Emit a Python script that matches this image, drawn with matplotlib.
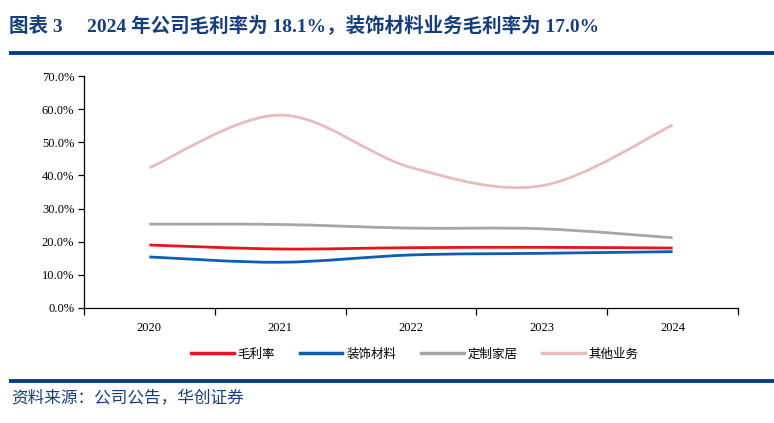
import matplotlib
matplotlib.use('Agg')
import matplotlib.pyplot as plt
from matplotlib.path import Path
from matplotlib.patches import PathPatch
from matplotlib.lines import Line2D
from matplotlib.ticker import FuncFormatter, FixedLocator

plt.rcParams['font.family'] = ['Liberation Serif', 'Noto Sans CJK SC']

# data
years = ['2020', '2021', '2022', '2023', '2024']
gross_margin = [19.0, 17.8, 18.2, 18.3, 18.1]
decor_material = [15.4, 13.8, 16.0, 16.5, 17.0]
custom_home = [25.3, 25.2, 24.1, 23.9, 21.2]
other_business = [42.3, 58.2, 42.4, 36.9, 55.2]

series_names = ['毛利率', '装饰材料', '定制家居', '其他业务']
series_values = [gross_margin, decor_material, custom_home, other_business]
colors = ['#e8141c', '#0d5cb6', '#a6a6a6', '#e8bcbc']

title_color = '#173e7c'


def smooth_path(xs, ys):
    # bezier through points, excel-like smoothing
    pts = list(zip(xs, ys))
    verts = [pts[0]]
    codes = [Path.MOVETO]
    n = len(pts)
    for i in range(n - 1):
        p0 = pts[i - 1] if i > 0 else pts[i]
        p1 = pts[i]
        p2 = pts[i + 1]
        p3 = pts[i + 2] if i + 2 < n else pts[i + 1]
        c1 = (p1[0] + (p2[0] - p0[0]) / 6, p1[1] + (p2[1] - p0[1]) / 6)
        c2 = (p2[0] - (p3[0] - p1[0]) / 6, p2[1] - (p3[1] - p1[1]) / 6)
        verts += [c1, c2, p2]
        codes += [Path.CURVE4] * 3
    return Path(verts, codes)


fig = plt.figure(figsize=(7.74, 4.23), dpi=100)
ax = fig.add_axes([0.1085, 0.2719, 0.9535 - 0.1085, 0.8203 - 0.2719])

x = list(range(len(years)))
for vals, c in zip(series_values, colors):
    patch = PathPatch(smooth_path(x, vals), facecolor='none', edgecolor=c,
                      lw=2.0, capstyle='butt', joinstyle='round')
    ax.add_patch(patch)

ax.set_xlim(-0.5, 4.5)
ax.set_ylim(0, 70)
ax.yaxis.set_major_locator(FixedLocator([0, 10, 20, 30, 40, 50, 60, 70]))
ax.yaxis.set_major_formatter(FuncFormatter(lambda v, p: f'{v:.1f}%'))
ax.set_xticks(x)
ax.set_xticklabels(years)
ax.xaxis.set_minor_locator(FixedLocator([-0.5, 0.5, 1.5, 2.5, 3.5, 4.5]))
ax.tick_params(axis='x', which='major', length=0, pad=10, labelsize=9)
ax.tick_params(axis='x', which='minor', length=5, width=0.9, direction='out')
ax.tick_params(axis='y', length=4, width=0.9, direction='out', labelsize=9, pad=3)
for s in ['top', 'right']:
    ax.spines[s].set_visible(False)
for s in ['left', 'bottom']:
    ax.spines[s].set_linewidth(0.9)
    ax.spines[s].set_color('black')

handles = [Line2D([0], [0], color=c, lw=2.5) for c in colors]
leg = fig.legend(handles, series_names, loc='center', bbox_to_anchor=(0.536, 0.163),
                 ncol=4, frameon=False, handlelength=3.4, handletextpad=0.3,
                 columnspacing=2.0, prop={'family': ['Noto Sans CJK SC'], 'size': 9})

# title and decorations
fig.text(0.011, 0.94, '图表 3     2024 年公司毛利率为 18.1%，装饰材料业务毛利率为 17.0%',
         fontsize=14, fontweight='bold', color=title_color, va='center',
         family=['Liberation Serif', 'Noto Sans CJK SC'])
fig.add_artist(Line2D([0.014, 1.0], [1 - 53 / 423] * 2, color='#0b3d80', lw=2.8))
fig.add_artist(Line2D([0.014, 1.0], [1 - 381 / 423] * 2, color='#0b3d80', lw=2.8))
fig.text(0.014, 1 - 398 / 423, '资料来源：公司公告，华创证券', fontsize=12,
         color=title_color, va='center', style='italic',
         family=['Noto Sans CJK SC'])

fig.savefig('out.png', dpi=100)
